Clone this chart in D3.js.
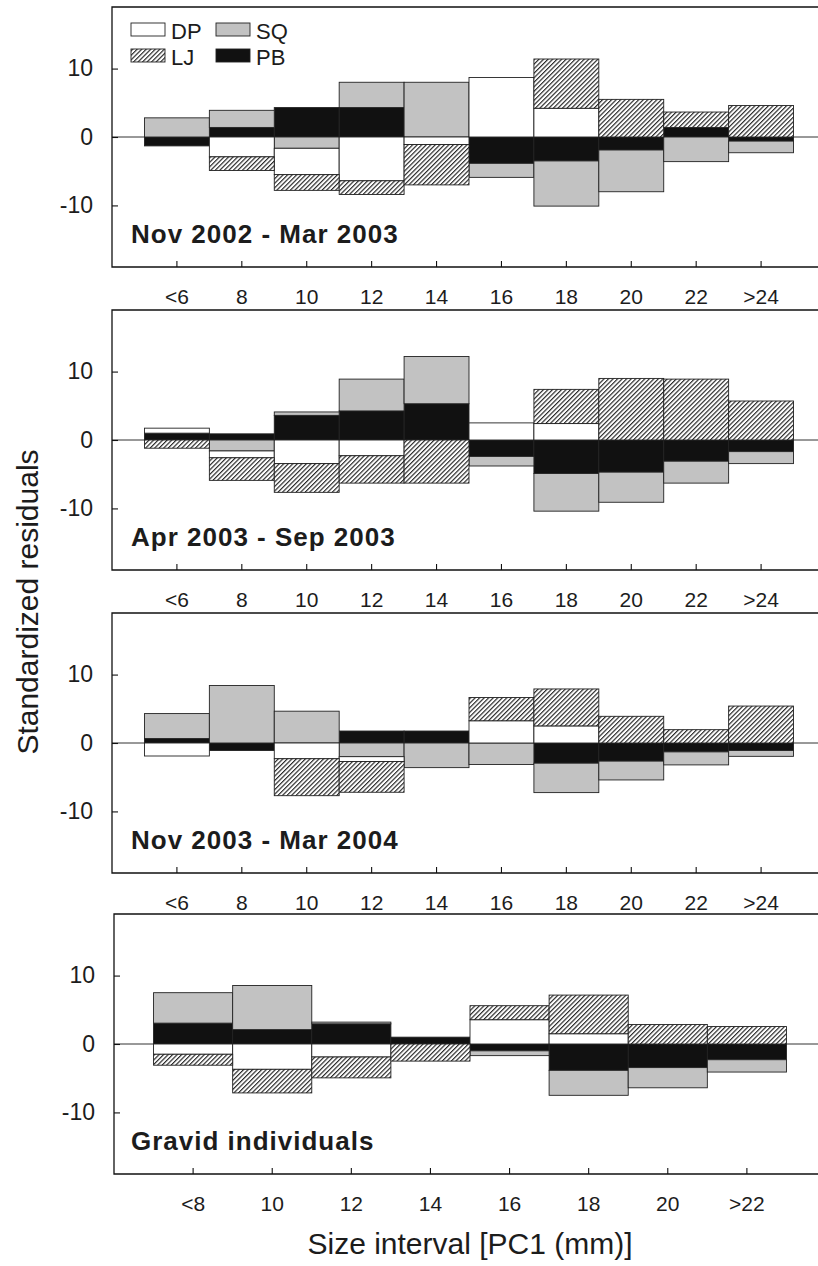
<!DOCTYPE html>
<html><head><meta charset="utf-8">
<script src="https://cdn.jsdelivr.net/npm/d3@7"></script>
<style>
body{margin:0;background:#fff}
svg{display:block}
text{font-family:"Liberation Sans",Arial,Helvetica,sans-serif;fill:#1c1c1c}
</style>
</head><body>
<svg id="chart" width="818" height="1266"></svg>
<script>
// ---------- data ----------
const categoriesA = ["<6","8","10","12","14","16","18","20","22",">24"];
const categoriesB = ["<8","10","12","14","16","18","20",">22"];
const panelTitles = ["Nov 2002 - Mar 2003","Apr 2003 - Sep 2003","Nov 2003 - Mar 2004","Gravid individuals"];
const stackKeys = ["PB","SQ","DP","LJ"];
const legendKeys = ["DP","SQ","LJ","PB"];
const yTickValues = [-10, 0, 10];

// Panel 1: Nov 2002 - Mar 2003
const DP1 = [0, -2.9, -3.85, -6.4, -1.1, 8.7, 4.2, 0, 0, 0];
const SQ1 = [2.8, 2.5, -1.65, 3.7, 8.0, -2.05, -6.6, -6.1, -3.6, -1.7];
const LJ1 = [0, -2.0, -2.3, -2.0, -5.9, 0, 7.2, 5.5, 2.25, 4.6];
const PB1 = [-1.3, 1.4, 4.3, 4.3, 0, -3.85, -3.5, -1.9, 1.4, -0.6];
// Panel 2: Apr 2003 - Sep 2003
const DP2 = [0.73, -1.0, -3.45, -2.3, 0, 2.5, 2.4, 0, 0, 0];
const SQ2 = [0, -1.6, 0.5, 4.65, 6.9, -1.4, -5.5, -4.4, -3.2, -1.75];
const LJ2 = [-1.2, -3.3, -4.2, -4.0, -6.3, 0, 5.0, 9.0, 8.9, 5.7];
const PB2 = [1.0, 0.9, 3.6, 4.25, 5.3, -2.4, -4.9, -4.7, -3.1, -1.7];
// Panel 3: Nov 2003 - Mar 2004
const DP3 = [-1.9, 0, -2.3, -0.7, 0, 3.25, 2.5, 0, 0, 0];
const SQ3 = [3.65, 8.4, 4.65, -2.0, -3.6, -3.15, -4.3, -2.75, -1.9, -0.85];
const LJ3 = [0, 0, -5.4, -4.5, 0, 3.4, 5.4, 3.9, 1.95, 5.4];
const PB3 = [0.65, -1.1, 0, 1.75, 1.75, 0, -2.95, -2.65, -1.3, -1.1];
// Panel 4: Gravid individuals
const DP4 = [-1.5, -3.7, -1.9, 0, 3.55, 1.5, 0, 0];
const SQ4 = [4.45, 6.45, 0.25, 0, -0.7, -3.65, -2.95, -1.8];
const LJ4 = [-1.6, -3.45, -3.05, -2.5, 2.05, 5.65, 2.85, 2.55];
const PB4 = [3.05, 2.1, 2.95, 1.0, -1.0, -3.85, -3.45, -2.3];

const panels = [
  {cats: categoriesA, DP: DP1, SQ: SQ1, LJ: LJ1, PB: PB1, title: panelTitles[0]},
  {cats: categoriesA, DP: DP2, SQ: SQ2, LJ: LJ2, PB: PB2, title: panelTitles[1]},
  {cats: categoriesA, DP: DP3, SQ: SQ3, LJ: LJ3, PB: PB3, title: panelTitles[2]},
  {cats: categoriesB, DP: DP4, SQ: SQ4, LJ: LJ4, PB: PB4, title: panelTitles[3]}
];

// ---------- layout ----------
const W = 818, H = 1266;
const panelTops = [7, 310, 613, 914];
const panelH = 260;
const panelLeft = [112, 112, 112, 114];
const panelRight = 826;

const svg = d3.select("#chart");
svg.append("rect").attr("width", W).attr("height", H).attr("fill", "#fff");

const defs = svg.append("defs");
const pat = defs.append("pattern").attr("id", "hatch")
  .attr("patternUnits", "userSpaceOnUse").attr("width", 3.2).attr("height", 3.2)
  .attr("patternTransform", "rotate(45)");
pat.append("rect").attr("width", 3.2).attr("height", 3.2).attr("fill", "#fff");
pat.append("line").attr("x1", 0.6).attr("y1", 0).attr("x2", 0.6).attr("y2", 3.2)
  .attr("stroke", "#1a1a1a").attr("stroke-width", 1.1);

const fills = {DP: "#ffffff", SQ: "#c2c2c2", LJ: "url(#hatch)", PB: "#111111"};

panels.forEach((p, i) => {
  const top = panelTops[i], bottom = top + panelH, left = panelLeft[i];
  const g = svg.append("g");
  const x = d3.scaleBand().domain(p.cats).range([left, panelRight]).paddingInner(0).paddingOuter(0.5);
  const y = d3.scaleLinear().domain([-19, 19]).range([bottom, top]);

  const rows = p.cats.map((c, j) => ({cat: c, DP: p.DP[j], SQ: p.SQ[j], LJ: p.LJ[j], PB: p.PB[j]}));
  const stacked = d3.stack().keys(stackKeys).offset(d3.stackOffsetDiverging)(rows);

  // zero line
  g.append("line").attr("x1", left).attr("x2", W).attr("y1", y(0)).attr("y2", y(0))
    .attr("stroke", "#333").attr("stroke-width", 1);

  stacked.forEach(s => {
    g.append("g").selectAll("rect").data(s.filter(d => Math.abs(d[1] - d[0]) > 0.001)).join("rect")
      .attr("x", d => x(d.data.cat))
      .attr("width", x.bandwidth())
      .attr("y", d => y(Math.max(d[0], d[1])))
      .attr("height", d => Math.abs(y(d[0]) - y(d[1])))
      .attr("fill", fills[s.key])
      .attr("stroke", "#222").attr("stroke-width", 0.9);
  });

  // frame
  g.append("path")
    .attr("d", `M${panelRight},${top}H${left}V${bottom}H${panelRight}`)
    .attr("fill", "none").attr("stroke", "#111").attr("stroke-width", 1.3);

  // y axis ticks (inward) and labels
  const yAxis = d3.axisLeft(y).tickValues(yTickValues).tickSize(-6).tickPadding(19).tickFormat(d3.format("d"));
  const ya = g.append("g").attr("transform", `translate(${left},0)`).call(yAxis);
  ya.select(".domain").remove();
  ya.selectAll(".tick line").attr("stroke", "#111").attr("stroke-width", 1.1);
  ya.selectAll(".tick text").attr("font-size", 23).attr("fill", "#1c1c1c")
    .attr("font-family", "Liberation Sans, Arial, sans-serif")
    .text(d => d < 0 ? "-" + Math.abs(d) : d);

  // x axis ticks (inward) and labels
  const xAxis = d3.axisBottom(x).tickSize(-6).tickPadding(22);
  const xa = g.append("g").attr("transform", `translate(0,${bottom})`).call(xAxis);
  xa.select(".domain").remove();
  xa.selectAll(".tick line").attr("stroke", "#111").attr("stroke-width", 1.1);
  xa.selectAll(".tick text").attr("font-size", 21).attr("fill", "#1c1c1c")
    .attr("font-family", "Liberation Sans, Arial, sans-serif");

  // panel title
  g.append("text").attr("x", 131).attr("y", bottom - 24)
    .attr("font-size", 26).attr("font-weight", "bold").attr("letter-spacing", 1)
    .text(p.title);

  // legend in first panel
  if (i === 0) {
    const lg = g.append("g");
    legendKeys.forEach((k, j) => {
      const col = j % 2, row = Math.floor(j / 2);
      const lx = 131 + col * 85, ly = 23 + row * 26;
      lg.append("rect").attr("x", lx).attr("y", ly).attr("width", 34).attr("height", 13)
        .attr("fill", fills[k]).attr("stroke", "#222").attr("stroke-width", 0.9);
      lg.append("text").attr("x", lx + 40).attr("y", ly + 15.5).attr("font-size", 22).text(k);
    });
  }
});

// axis titles
svg.append("text").attr("transform", "translate(38,602) rotate(-90)")
  .attr("text-anchor", "middle").attr("font-size", 30).text("Standardized residuals");
svg.append("text").attr("x", 470).attr("y", 1254)
  .attr("text-anchor", "middle").attr("font-size", 30).text("Size interval [PC1 (mm)]");
</script>
</body></html>
